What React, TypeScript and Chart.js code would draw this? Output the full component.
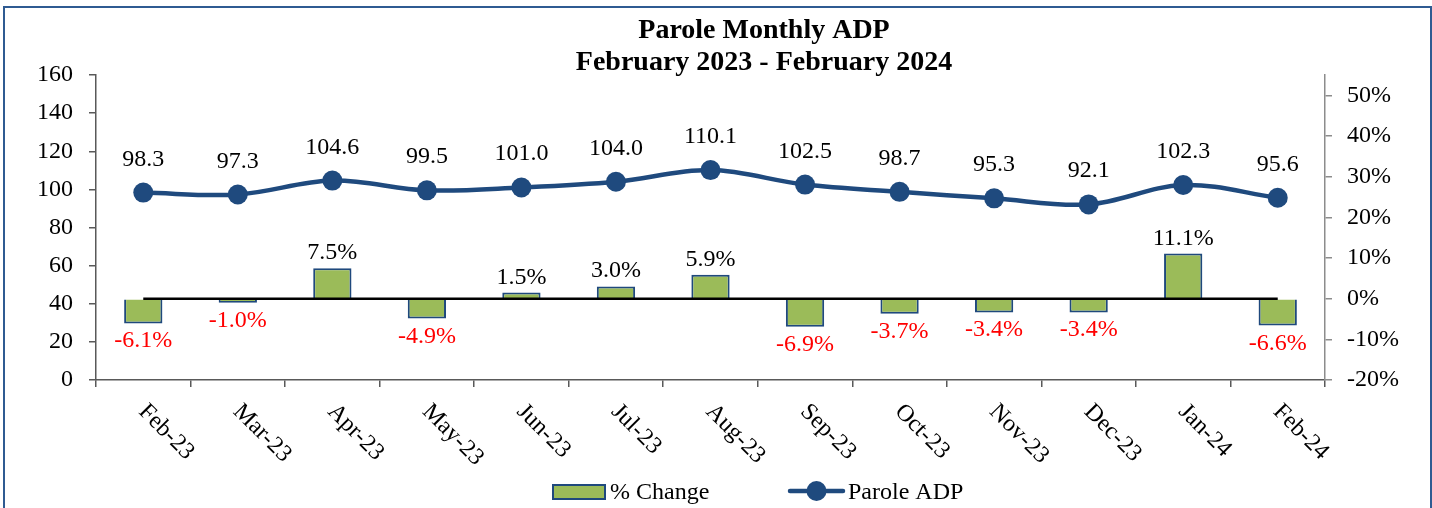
import React, { useEffect, useRef } from "react";
import { Chart, registerables } from "chart.js";

Chart.register(...registerables);

const categories = ["Feb-23", "Mar-23", "Apr-23", "May-23", "Jun-23", "Jul-23", "Aug-23", "Sep-23", "Oct-23", "Nov-23", "Dec-23", "Jan-24", "Feb-24"];
const paroleADP = [98.3, 97.3, 104.6, 99.5, 101.0, 104.0, 110.1, 102.5, 98.7, 95.3, 92.1, 102.3, 95.6];
const pctChange = [-6.1, -1.0, 7.5, -4.9, 1.5, 3.0, 5.9, -6.9, -3.7, -3.4, -3.4, 11.1, -6.6];
const zeroLine = [0, 0, 0, 0, 0, 0, 0, 0, 0, 0, 0, 0, 0];
const leftTicks = [0, 20, 40, 60, 80, 100, 120, 140, 160];
const rightTicks = [-20, -10, 0, 10, 20, 30, 40, 50];
const titleLines = ["Parole Monthly ADP", "February 2023 - February 2024"];

const FONT = '"Liberation Serif", "Times New Roman", serif';
const BLUE = "#1F4A7E";
const GREEN = "#9BBB59";
const BAR_BORDER = "#1F497D";

const overlay = {
  id: "overlay",
  afterDatasetsDraw(chart: any) {
    const ctx = chart.ctx as CanvasRenderingContext2D;
    const x = chart.scales.x;
    const y = chart.scales.y;
    const y1 = chart.scales.y1;
    ctx.save();
    // frame
    ctx.strokeStyle = "#2F5B92";
    ctx.lineWidth = 2;
    ctx.strokeRect(4, 7, 1427, 520);

    // title
    ctx.fillStyle = "#000";
    ctx.textAlign = "center";
    ctx.textBaseline = "alphabetic";
    ctx.font = `bold 28px ${FONT}`;
    ctx.fillText(titleLines[0], 764, 37.5);
    ctx.fillText(titleLines[1], 764, 70);

    // ADP labels
    ctx.font = `24px ${FONT}`;
    paroleADP.forEach((v, i) => {
      const px = x.getPixelForValue(i);
      const py = y.getPixelForValue(v);
      ctx.fillStyle = "#000";
      ctx.fillText(v.toFixed(1), px, py - 27);
    });

    // pct labels
    pctChange.forEach((v, i) => {
      const px = x.getPixelForValue(i);
      const py = y1.getPixelForValue(v);
      if (v >= 0) {
        ctx.fillStyle = "#000";
        ctx.fillText(v.toFixed(1) + "%", px, py - 9);
      } else {
        ctx.fillStyle = "#FF0000";
        ctx.fillText(v.toFixed(1) + "%", px, py + 24);
      }
    });

    // x labels rotated
    ctx.fillStyle = "#000";
    ctx.textAlign = "left";
    categories.forEach((c, i) => {
      const px = x.getPixelForValue(i);
      ctx.save();
      ctx.translate(px - 5.5, 412.5);
      ctx.rotate(Math.PI / 4);
      ctx.fillText(c, 0, 0);
      ctx.restore();
    });

    // legend
    ctx.fillStyle = GREEN;
    ctx.fillRect(553, 485, 52, 14);
    ctx.strokeStyle = BAR_BORDER;
    ctx.lineWidth = 2;
    ctx.strokeRect(553, 485, 52, 14);
    ctx.fillStyle = "#000";
    ctx.font = `24px ${FONT}`;
    ctx.fillText("% Change", 610, 499);

    ctx.strokeStyle = BLUE;
    ctx.lineWidth = 4.5;
    ctx.lineCap = "round";
    ctx.beginPath();
    ctx.moveTo(790, 491);
    ctx.lineTo(843, 491);
    ctx.stroke();
    ctx.fillStyle = BLUE;
    ctx.beginPath();
    ctx.arc(816.5, 491, 10, 0, Math.PI * 2);
    ctx.fill();
    ctx.fillStyle = "#000";
    ctx.fillText("Parole ADP", 848, 499);
    ctx.restore();
  },
};

export default function App() {
  const ref = useRef<HTMLCanvasElement | null>(null);
  useEffect(() => {
    const canvas = ref.current;
    if (!canvas) return;
    const chart = new Chart(canvas, {
      data: {
        labels: categories,
        datasets: [
          {
            type: "line",
            label: "Parole ADP",
            data: paroleADP,
            yAxisID: "y",
            borderColor: BLUE,
            backgroundColor: BLUE,
            borderWidth: 4.5,
            pointRadius: 10,
            pointBorderWidth: 0,
            pointBackgroundColor: BLUE,
            tension: 0.35,
            order: 0,
          },
          {
            type: "line",
            label: "zero",
            data: zeroLine,
            yAxisID: "y1",
            borderColor: "#000",
            borderWidth: 2.5,
            pointRadius: 0,
            tension: 0,
            order: 1,
          },
          {
            type: "bar",
            label: "% Change",
            data: pctChange,
            yAxisID: "y1",
            backgroundColor: GREEN,
            borderColor: BAR_BORDER,
            borderWidth: 2,
            barPercentage: 0.405,
            categoryPercentage: 1,
            order: 2,
          },
        ],
      } as any,
      options: {
        responsive: false,
        animation: false,
        events: [],
        layout: { padding: { top: 75, bottom: 0, left: 0, right: 0 } },
        plugins: { legend: { display: false }, title: { display: false }, tooltip: { enabled: false } },
        scales: {
          x: {
            type: "category",
            offset: true,
            grid: { offset: true, drawOnChartArea: false, drawTicks: true, tickLength: 7, color: "#595959", lineWidth: 1.5 },
            border: { display: true, color: "#595959", width: 1.5 },
            ticks: { display: false },
            afterFit: (s: any) => { s.height = 128; },
          },
          y: {
            type: "linear",
            position: "left",
            min: 0,
            max: 160,
            afterBuildTicks: (s: any) => { s.ticks = leftTicks.map((v) => ({ value: v })); },
            grid: { drawOnChartArea: false, drawTicks: true, tickLength: 7, color: "#595959", lineWidth: 1.5 },
            border: { display: true, color: "#595959", width: 1.5 },
            ticks: { font: { family: FONT, size: 24 }, color: "#000", padding: 16 },
            afterFit: (s: any) => { s.width = 96; },
          },
          y1: {
            type: "linear",
            position: "right",
            min: -20,
            max: 55,
            afterBuildTicks: (s: any) => { s.ticks = rightTicks.map((v) => ({ value: v })); },
            grid: { drawOnChartArea: false, drawTicks: true, tickLength: 7, color: "#8C8C8C", lineWidth: 1.5 },
            border: { display: true, color: "#8C8C8C", width: 1.5 },
            ticks: { font: { family: FONT, size: 24 }, color: "#000", padding: 15, callback: (v: any) => `${v}%` },
            afterFit: (s: any) => { s.width = 107; },
          },
        },
      } as any,
      plugins: [overlay],
    });
    return () => chart.destroy();
  }, []);
  return (
    <div style={{ position: "absolute", left: 0, top: 0, width: 1432, height: 508, background: "#fff" }}>
      <canvas ref={ref} width={1432} height={508} style={{ display: "block" }} />
    </div>
  );
}
